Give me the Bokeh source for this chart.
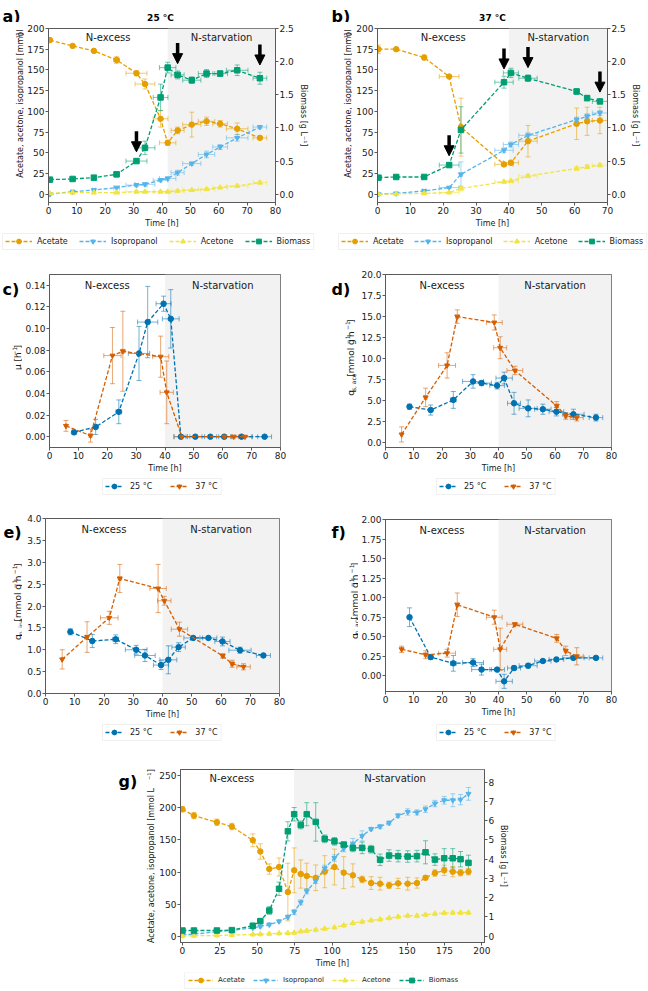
import numpy as np
from math import pi
from bokeh.plotting import figure
from bokeh.models import (Range1d, LinearAxis, Whisker, TeeHead, BoxAnnotation, Label,
                          Legend, LegendItem, ColumnDataSource, Arrow, NormalHead,
                          FixedTicker, NumeralTickFormatter)
from bokeh.layouts import column, row
from bokeh.embed import file_html
from bokeh.resources import INLINE

# ---------------- data ----------------
# panel a, 25 °C
t_a = [0.5, 8.5, 16.0, 24.0, 31.0, 34.0, 39.5, 42.0, 45.5, 50.5, 55.7, 60.5, 66.5, 74.5]
xerr_a = [0.0, 0.5, 0.5, 1.0, 3.7, 3.5, 2.6, 2.9, 2.3, 3.2, 2.9, 2.6, 3.8, 2.4]
ace_a = [186, 179, 173, 162, 146, 133, 91, 62, 77, 84, 88, 85, 79, 68]
ace_a_err = [2, 1, 1, 4, 3, 6, 10, 3, 4, 15, 5, 4, 7, 2]
ipa_a = [0, 3, 5, 8, 11, 12, 17, 19, 26, 37, 48, 57, 68, 81]
ipa_a_err = [1, 1, 1, 1, 2, 2, 2, 2, 3, 2, 4, 3, 4, 2]
aco_a = [1, 2, 2, 2, 3, 3, 3, 3, 4, 5, 6, 8, 10, 14]
aco_a_err = [1, 1, 1, 1, 1, 1, 1, 1, 1, 1, 1, 1, 1, 2]
bio_a = [0.22, 0.23, 0.25, 0.30, 0.50, 0.70, 1.46, 1.91, 1.80, 1.72, 1.82, 1.82, 1.87, 1.75]
bio_a_err = [0.02, 0.02, 0.02, 0.04, 0.03, 0.10, 0.20, 0.08, 0.06, 0.05, 0.06, 0.04, 0.08, 0.09]
arrows_a = [4, 8, 13]

# panel b, 37 °C
t_b = [0.3, 5.7, 14.2, 21.8, 25.4, 38.5, 40.6, 45.8, 60.6, 63.8, 67.7]
xerr_b = [0.0, 0.0, 0.5, 3.0, 0.5, 2.8, 2.3, 2.8, 0.5, 0.5, 2.3]
ace_b = [175, 175, 165, 142, 81, 36, 38, 64, 85, 88, 89]
ace_b_err = [5, 1, 3, 1, 35, 2, 3, 19, 19, 17, 16]
ipa_b = [0, 1, 4, 8, 24, 53, 60, 71, 90, 94, 98]
ipa_b_err = [1, 1, 1, 1, 15, 3, 3, 3, 3, 3, 3]
aco_b = [0, 0.5, 1, 2, 7, 15, 16, 22, 31, 33, 35]
aco_b_err = [1, 1, 1, 1, 3, 1, 1, 2, 2, 2, 2]
bio_b = [0.25, 0.26, 0.26, 0.44, 0.97, 1.69, 1.83, 1.75, 1.55, 1.45, 1.40]
bio_b_err = [0.02, 0.01, 0.01, 0.03, 0.35, 0.09, 0.07, 0.05, 0.04, 0.04, 0.03]
arrows_b = [3, 5, 7, 10]

# panels c-f : rates
t25 = [8.5, 16.0, 24.0, 31.0, 34.0, 39.5, 42.0, 45.5, 50.5, 55.7, 60.5, 66.5, 74.5]
xerr25 = [0.5, 0.5, 1.0, 3.7, 3.5, 2.6, 2.9, 2.3, 3.2, 2.9, 2.6, 3.8, 2.4]
t37 = [5.7, 14.2, 21.8, 25.4, 38.5, 40.6, 45.8, 60.6, 63.8, 67.7]
xerr37 = [0.0, 0.5, 3.0, 0.5, 2.8, 2.3, 2.8, 0.5, 0.5, 2.3]

mu25 = [0.004, 0.009, 0.023, 0.077, 0.106, 0.123, 0.109, 0, 0, 0, 0, 0, 0]
mu25_err = [0.002, 0.007, 0.011, 0.025, 0.033, 0.007, 0.027, 0, 0, 0, 0, 0, 0]
mu37 = [0.010, 0.001, 0.075, 0.079, 0.074, 0.041, 0, 0, 0, 0]
mu37_err = [0.005, 0.006, 0.026, 0.037, 0.019, 0.029, 0, 0, 0, 0]

qs25 = [4.3, 3.9, 5.1, 7.3, 7.1, 6.8, 7.7, 4.7, 4.1, 4.0, 3.7, 3.4, 3.0]
qs25_err = [0.3, 0.6, 1.0, 0.8, 0.3, 0.4, 0.7, 1.3, 1.0, 0.6, 0.5, 0.6, 0.4]
qs37 = [1.0, 5.4, 9.2, 15.0, 14.3, 11.3, 8.6, 4.4, 3.2, 3.0]
qs37_err = [0.9, 1.1, 1.5, 0.8, 0.9, 1.3, 0.5, 0.5, 0.4, 0.4]

qipa25 = [1.41, 1.20, 1.24, 1.00, 0.87, 0.65, 0.77, 1.06, 1.27, 1.27, 1.19, 0.99, 0.87]
qipa25_err = [0.07, 0.15, 0.10, 0.10, 0.14, 0.10, 0.32, 0.10, 0.04, 0.03, 0.10, 0.07, 0.03]
qipa37 = [0.78, 1.29, 1.73, 2.63, 2.40, 2.12, 1.47, 0.86, 0.68, 0.61]
qipa37_err = [0.22, 0.35, 0.15, 0.32, 0.55, 0.10, 0.16, 0.05, 0.08, 0.07]

qaco25 = [0.75, 0.24, 0.16, 0.17, 0.08, 0.08, -0.07, 0.10, 0.13, 0.19, 0.21, 0.23, 0.23]
qaco25_err = [0.12, 0.03, 0.10, 0.05, 0.07, 0.02, 0.09, 0.03, 0.03, 0.02, 0.02, 0.02, 0.02]
qaco37 = [0.34, 0.27, 0.29, 0.91, 0.75, 0.34, 0.66, 0.48, 0.32, 0.25]
qaco37_err = [0.04, 0.05, 0.05, 0.15, 0.09, 0.27, 0.02, 0.05, 0.06, 0.11]

# panel g
t_g = [0, 7.7, 23, 33, 47, 52, 58, 64.5, 70.4, 74.6, 79, 83, 89, 95, 101.5, 107.7, 113.8,
       120, 126, 132, 138, 144, 150.4, 156.6, 162.3, 168.6, 174.8, 180.5, 185.7, 191]
xerr_g = [0] * 30
ace_g = [198, 188, 177.6, 171, 149.5, 132, 104.7, 107.8, 68.7, 102.6, 96.9, 93.8, 91, 100.5,
         107.8, 99, 94.8, 88.5, 82.8, 81.8, 79.2, 82.3, 81.8, 82.8, 91, 98.4, 102.6, 100.5, 99, 100.5]
ace_g_err = [4, 5, 5, 5, 10, 12, 8, 14, 45, 35, 22, 20, 20, 25, 28, 25, 18, 5, 10, 10, 5, 8,
             10, 8, 3, 5, 8, 8, 5, 5]
ipa_g = [2, 3, 6.8, 8.9, 13, 15, 18, 23, 29.7, 37.5, 52.6, 70, 86, 105.7, 121.9, 136.5, 144.3,
         156.3, 167, 171, 176.6, 188, 193.7, 193, 198, 206.8, 212, 212, 213, 222]
ipa_g_err = [1, 1, 1, 1, 2, 2, 2, 2, 3, 4, 4, 4, 4, 5, 5, 5, 8, 8, 2, 3, 3, 3, 5, 4, 5, 5,
             6, 10, 8, 10]
aco_g = [0, 0.5, 1, 1.6, 2.6, 3, 3.6, 4.2, 4.7, 5.2, 7.3, 8.3, 9.9, 11.5, 13.5, 16.7, 20.3,
         22.4, 24.5, 26, 28, 30.2, 31.8, 31.8, 33.3, 34.9, 36, 36.5, 36.5, 36.5]
aco_g_err = [1] * 30
bio_g = [0.29, 0.29, 0.29, 0.31, 0.54, 0.78, 1.33, 2.46, 5.45, 6.34, 5.78, 6.34, 5.94, 5.06,
         4.93, 4.76, 4.59, 4.59, 4.52, 3.97, 4.19, 4.16, 4.14, 4.16, 4.36, 3.98, 4.05, 4.05,
         4.00, 3.81]
bio_g_err = [0.03, 0.03, 0.03, 0.03, 0.05, 0.10, 0.20, 0.35, 0.50, 0.35, 0.20, 0.60, 1.00,
             0.20, 0.20, 0.10, 0.20, 0.30, 0.20, 0.30, 0.30, 0.30, 0.30, 0.30, 0.60, 0.30,
             0.50, 0.50, 0.40, 0.40]

conc_names = ["Acetate", "Isopropanol", "Acetone", "Biomass"]
temp_names = ["25 °C", "37 °C"]

# ---------------- style ----------------
FONT = "DejaVu Sans"
C_ACE, C_IPA, C_ACO, C_BIO = "#E69F00", "#56B4E9", "#F0E442", "#009E73"
C25, C37 = "#0072B2", "#D55E00"
SHADE = "#F2F2F2"
SPINE = "#5a5a5a"
TXT = "#1a1a1a"
CONC_STYLE = [(C_ACE, "circle", 5.5), (C_IPA, "inverted_triangle", 5),
              (C_ACO, "triangle", 5), (C_BIO, "square", 5.5)]
TEMP_STYLE = [(C25, "circle", 5.5), (C37, "inverted_triangle", 5)]
TICK_FS, LAB_FS, SUB_FS, LEG_FS = 9, 8, 6, 8

# DejaVu Sans advance widths (em)
AW = {' ': .318, ',': .318, '[': .390, ']': .390, 'a': .613, 'c': .550, 'e': .615,
      'g': .635, 'h': .634, 'i': .278, 'l': .278, 'm': .974, 'o': .612, 'p': .635,
      'q': .635, 's': .521, '−': .838, '1': .636, 'A': .684, 'B': .686, 'I': .295,
      't': .392, 'n': .634, 'r': .411, '2': .636, '3': .636, '5': .636, '7': .636,
      '°': .5, 'C': .698, 'L': .557, 'μ': .636}


def tw(s, fs):
    return sum(AW.get(ch, .6) for ch in s) * fs


def style_axis(ax, ticks, fmt, label=None):
    ax.ticker = FixedTicker(ticks=ticks)
    ax.formatter = NumeralTickFormatter(format=fmt)
    ax.major_label_text_font = FONT
    ax.major_label_text_font_size = f"{TICK_FS}px"
    ax.major_label_text_color = TXT
    ax.axis_label = label
    ax.axis_label_text_font = FONT
    ax.axis_label_text_font_size = f"{LAB_FS}px"
    ax.axis_label_text_font_style = "normal"
    ax.axis_label_text_color = TXT
    ax.major_tick_in = 0
    ax.major_tick_out = 3
    ax.minor_tick_in = 0
    ax.minor_tick_out = 0
    ax.axis_line_color = SPINE
    ax.major_tick_line_color = SPINE
    ax.major_label_standoff = 1
    ax.axis_label_standoff = 2


def strip(w, h):
    s = figure(width=w, height=h, x_range=Range1d(0, w), y_range=Range1d(0, h),
               output_backend="svg", toolbar_location=None, x_axis_location=None,
               y_axis_location=None, min_border=0)
    s.title.visible = False
    s.outline_line_color = None
    s.grid.visible = False
    s.background_fill_color = "white"
    s.border_fill_color = "white"
    return s


def make_fig(w, h, bl, br, bt, bb, xr, yr, xt, yt, yfmt):
    p = figure(width=w, height=h, x_range=Range1d(*xr), y_range=Range1d(*yr),
               output_backend="svg", toolbar_location=None,
               min_border_left=bl, min_border_right=br, min_border_top=bt,
               min_border_bottom=bb)
    p.title.visible = False
    p.xgrid.visible = False
    p.ygrid.visible = False
    p.outline_line_color = SPINE
    p.background_fill_color = "white"
    p.border_fill_color = "white"
    style_axis(p.xaxis[0], xt, "0", "Time [h]")
    style_axis(p.yaxis[0], yt, yfmt, None)
    return p


def shade(p, left):
    p.add_layout(BoxAnnotation(left=left, fill_color=SHADE, fill_alpha=1.0,
                               line_alpha=0, level="image"))


def series(p, t, y, yerr, xerr, style, rng="default"):
    color, marker, size = style
    t = np.asarray(t, float)
    y = np.asarray(y, float)
    ye = np.asarray(yerr, float)
    xe = np.asarray(xerr, float)
    src = ColumnDataSource(dict(x=t, y=y, ylo=y - ye, yhi=y + ye, xlo=t - xe, xhi=t + xe))
    for dim, base, lo, hi in (("height", "x", "ylo", "yhi"), ("width", "y", "xlo", "xhi")):
        p.add_layout(Whisker(source=src, dimension=dim, base=base, lower=lo, upper=hi,
                             line_color=color, line_alpha=0.55, line_width=1,
                             level="underlay", y_range_name=rng,
                             upper_head=TeeHead(size=5, line_color=color, line_alpha=0.55,
                                                line_width=1),
                             lower_head=TeeHead(size=5, line_color=color, line_alpha=0.55,
                                                line_width=1)))
    p.line("x", "y", source=src, line_color=color, line_width=1.3, line_dash="4 2",
           y_range_name=rng)
    p.scatter("x", "y", source=src, marker=marker, size=size, fill_color=color,
              line_color=color, y_range_name=rng)


def legend_strip(w, h, names, styles, x0, top, glyph_w, stand, spacing, fs=LEG_FS):
    s = strip(w, h)
    pad, bh = 3, 16
    xs, x = [], x0 + pad
    for lab in names:
        xs.append(x)
        x += glyph_w + stand + tw(lab, fs) + spacing
    right = x - spacing + pad
    bottom = h - top - bh
    s.add_layout(BoxAnnotation(left=x0, right=right, bottom=bottom, top=h - top,
                               fill_color="white", fill_alpha=1.0, line_color="#cccccc",
                               line_width=1))
    nan = np.array([np.nan])
    for lab, (color, marker, size), xi in zip(names, styles, xs):
        cr = s.scatter(x=nan, y=nan, marker="cross", size=11, line_color=color,
                       line_alpha=0.55, line_width=1)
        ln = s.line(x=nan, y=nan, line_color=color, line_width=1.3, line_dash="4 2")
        mk = s.scatter(x=nan, y=nan, marker=marker, size=size, fill_color=color,
                       line_color=color)
        lg = Legend(items=[LegendItem(label=lab, renderers=[cr, ln, mk])],
                    orientation="horizontal", location=(xi, bottom + 2),
                    label_text_font=FONT, label_text_font_size=f"{fs}px",
                    label_text_color=TXT, glyph_width=glyph_w, glyph_height=12,
                    label_height=12, label_standoff=stand, padding=0, margin=0,
                    border_line_color=None, background_fill_alpha=0)
        s.add_layout(lg, "center")
    return s


def letter(s, txt, x, y):
    s.add_layout(Label(x=x, y=y, text=txt, text_font=FONT, text_font_size="16px",
                       text_font_style="bold", text_color="black", text_align="left",
                       text_baseline="alphabetic"))


def header(w, h, let, lx, ly, title, tx):
    s = strip(w, h)
    letter(s, let, lx, ly)
    s.add_layout(Label(x=tx, y=0, text=title, text_font=FONT, text_font_size="9px",
                       text_font_style="bold", text_color="black", text_align="center",
                       text_baseline="bottom"))
    return s


def phase_labels(p, x1, x2, fh, dy):
    for x, s in ((x1, "N-excess"), (x2, "N-starvation")):
        p.add_layout(Label(x=x, y=fh - dy, x_units="data", y_units="screen", text=s,
                           text_font=FONT, text_font_size="10px", text_color=TXT,
                           text_align="center", text_baseline="middle"))


def ylabel_strip(w, h, parts, xb, ycenter, let=None, lx=0, ly=0):
    s = strip(w, h)
    gap = 1.05
    total = sum(tw(t, f) * gap for t, f, _ in parts)
    y = ycenter - total / 2
    for t, f, dx in parts:
        s.add_layout(Label(x=xb + dx, y=y, text=t, angle=pi / 2, text_font=FONT,
                           text_font_size=f"{f}px", text_color=TXT, text_align="left",
                           text_baseline="alphabetic"))
        y += tw(t, f) * gap
    if let:
        letter(s, let, lx, ly)
    return s


def q_parts(sub):
    return [("q", 9, 0), (sub, 6, 2), (" [mmol g", 9, 0), ("−1", 6, -3.5),
            (" h", 9, 0), ("−1", 6, -3.5), ("]", 9, 0)]


CONC_PARTS = [("Acetate, acetone, isopropanol [mmol L", 8, 0), ("−1", 5, -3),
              ("]", 8, 0)]
MU_PARTS = [("μ [h", 9, 0), ("−1", 6, -3.5), ("]", 9, 0)]
RIGHT_LABEL = "Biomass [g L⁻¹]"


def arrows(p, t, bio, err, idx, rng):
    xs = [t[i] for i in idx]
    tips = [bio[i] + err[i] + 0.11 for i in idx]
    src = ColumnDataSource(dict(x0=xs, y0=[v + 0.31 for v in tips], x1=xs, y1=tips))
    p.add_layout(Arrow(source=src, x_start="x0", y_start="y0", x_end="x1", y_end="y1",
                       line_width=3.5, line_color="black", y_range_name=rng,
                       end=NormalHead(size=10, fill_color="black", line_color="black",
                                      line_width=1)))


def conc_panel(w, h, bl, br, bt, bb, xr, xt, shade_at, t, xerr, ace, acee, ipa, ipae, aco,
               acoe, bio, bioe, yr, yt, ryr, ryt, rfmt):
    p = make_fig(w, h, bl, br, bt, bb, xr, yr, xt, yt, "0")
    p.extra_y_ranges = {"bio": Range1d(*ryr)}
    rax = LinearAxis(y_range_name="bio")
    style_axis(rax, ryt, rfmt, RIGHT_LABEL)
    p.add_layout(rax, "right")
    shade(p, shade_at)
    series(p, t, ace, acee, xerr, CONC_STYLE[0])
    series(p, t, ipa, ipae, xerr, CONC_STYLE[1])
    series(p, t, aco, acoe, xerr, CONC_STYLE[2])
    series(p, t, bio, bioe, xerr, CONC_STYLE[3], rng="bio")
    return p


def rate_panel(w, h, bl, br, bt, bb, yr, yt, yfmt, y25, e25, y37, e37):
    p = make_fig(w, h, bl, br, bt, bb, (0, 80), yr, list(range(0, 81, 10)), yt, yfmt)
    shade(p, 40)
    series(p, t25, y25, e25, xerr25, TEMP_STYLE[0])
    series(p, t37, y37, e37, xerr37, TEMP_STYLE[1])
    phase_labels(p, 20, 60, h - bt - bb, 11)
    return p


# ---------------- row 1 : a, b  (y 0..252) ----------------
pa = conc_panel(300, 210, 21, 49, 6, 30, (0, 80), list(range(0, 81, 10)), 42,
                t_a, xerr_a, ace_a, ace_a_err, ipa_a, ipa_a_err, aco_a, aco_a_err,
                bio_a, bio_a_err, (-10, 200), list(range(0, 201, 25)),
                (-0.125, 2.5), [0, 0.5, 1.0, 1.5, 2.0, 2.5], "0.0")
arrows(pa, t_a, bio_a, bio_a_err, arrows_a, "bio")
phase_labels(pa, 21, 61, 174, 9)
cell_a = column(header(324, 22, "a)", 2, 6, "25 °C", 160),
                row(ylabel_strip(24, 210, CONC_PARTS, 20, 117), pa),
                legend_strip(324, 20, conc_names, CONC_STYLE, 2, 1, 27, 5, 11))

pb = conc_panel(295, 210, 25, 40, 6, 30, (0, 70), list(range(0, 71, 10)), 40,
                t_b, xerr_b, ace_b, ace_b_err, ipa_b, ipa_b_err, aco_b, aco_b_err,
                bio_b, bio_b_err, (-10, 200), list(range(0, 201, 25)),
                (-0.125, 2.5), [0, 0.5, 1.0, 1.5, 2.0, 2.5], "0.0")
arrows(pb, t_b, bio_b, bio_b_err, arrows_b, "bio")
phase_labels(pb, 20, 55, 174, 9)
cell_b = column(header(323, 22, "b)", 7, 6, "37 °C", 168),
                row(ylabel_strip(28, 210, CONC_PARTS, 24, 117), pb),
                legend_strip(323, 20, conc_names, CONC_STYLE, 14, 1, 27, 5, 10))

# ---------------- row 2 : c, d  (y 252..498) ----------------
pc = rate_panel(302, 225, 27, 44, 22, 30, (-0.01, 0.15), [0, .02, .04, .06, .08, .10, .12, .14],
                "0.00", mu25, mu25_err, mu37, mu37_err)
cell_c = column(row(ylabel_strip(22, 225, MU_PARTS, 17, 116.5, "c)", 2, 206), pc),
                legend_strip(324, 21, temp_names, TEMP_STYLE, 102, 1, 18, 7, 18))

pd_ = rate_panel(289, 225, 24, 36, 22, 30, (-0.55, 20), [0, 2.5, 5, 7.5, 10, 12.5, 15, 17.5, 20],
                 "0.0", qs25, qs25_err, qs37, qs37_err)
cell_d = column(row(ylabel_strip(34, 225, q_parts("s, ace"), 26.5, 116.5, "d)", 7, 205), pd_),
                legend_strip(323, 21, temp_names, TEMP_STYLE, 112, 1, 18, 7, 18))

# ---------------- row 3 : e, f  (y 498..745) ----------------
pe = rate_panel(302, 225, 23, 45, 20, 30, (0, 4), [0, .5, 1, 1.5, 2, 2.5, 3, 3.5, 4],
                "0.0", qipa25, qipa25_err, qipa37, qipa37_err)
cell_e = column(row(ylabel_strip(22, 225, q_parts("p, ipa"), 17.5, 117.5, "e)", 3, 207), pe),
                legend_strip(324, 22, temp_names, TEMP_STYLE, 102, 1, 18, 7, 18))

pf = rate_panel(289, 225, 24, 36, 21, 32, (-0.2, 2.0),
                [0, .25, .5, .75, 1.0, 1.25, 1.5, 1.75, 2.0], "0.00",
                qaco25, qaco25_err, qaco37, qaco37_err)
cell_f = column(row(ylabel_strip(34, 225, q_parts("p, aco"), 30, 118, "f)", 7, 208), pf),
                legend_strip(323, 22, temp_names, TEMP_STYLE, 112, 1, 18, 7, 18))

# ---------------- row 4 : g  (y 745..990) ----------------
pg = conc_panel(368, 227, 20, 40, 24, 30, (-1.3, 201.7), [0, 25, 50, 75, 100, 125, 150, 175, 200],
                74.5, t_g, xerr_g, ace_g, ace_g_err, ipa_g, ipa_g_err, aco_g, aco_g_err,
                bio_g, bio_g_err, (-10, 260), [0, 50, 100, 150, 200, 250],
                (-0.333, 8.667), [0, 1, 2, 3, 4, 5, 6, 7, 8], "0")
phase_labels(pg, 33, 142, 173, 9)
cell_g = row(ylabel_strip(156, 245, CONC_PARTS, 151, 134.5, "g)", 118, 209),
             column(pg, legend_strip(368, 18, conc_names, CONC_STYLE, 5, 0, 25, 5, 8, fs=7)))

layout = column(row(cell_a, cell_b), row(cell_c, cell_d), row(cell_e, cell_f), cell_g)

open("out.html", "w").write(file_html(layout, INLINE))
